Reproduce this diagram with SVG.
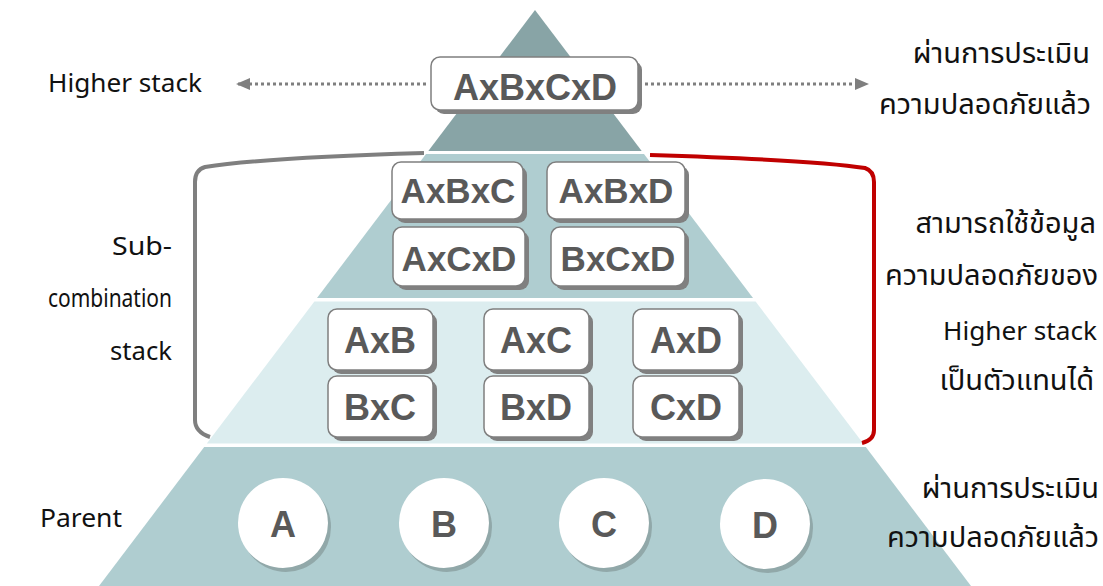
<svg xmlns="http://www.w3.org/2000/svg" width="1103" height="586" viewBox="0 0 1103 586">
<style>
.lbl{font-family:"Noto Sans","Noto Sans Thai","Tahoma","DejaVu Sans",sans-serif;font-size:25px;fill:#111}
.th{font-family:"Noto Sans Thai","Noto Sans","Tahoma","DejaVu Sans",sans-serif;font-size:29px;fill:#111;text-anchor:end}
.bt{font-family:"Liberation Sans",Arial,sans-serif;font-weight:bold;fill:#595959;text-anchor:middle}
.box{fill:#fff;stroke:#7f7f7f;stroke-width:1.5}
.sh{fill:#808080}
.csh{fill:#7d8f90;opacity:0.6}
.cir{fill:#fff}
</style>
<defs>
<marker id="ah" markerWidth="14" markerHeight="12" refX="12" refY="6" orient="auto" markerUnits="userSpaceOnUse">
<path d="M0,0 L14,6 L0,12 z" fill="#7f7f7f"/>
</marker>
</defs>
<g id="pyramid">
<polygon points="535,10 641.7,151 428.3,151" fill="#88a4a6"/>
<polygon points="426,154 644,154 753,298 317,298" fill="#afcdd0"/>
<polygon points="314.4,301.5 755.6,301.5 863.2,443.5 206.8,443.5" fill="#dcedef"/>
<polygon points="204.2,447 865.8,447 971,586 99,586" fill="#afcdd0"/>
</g>
<g id="connectors" fill="none">
<line x1="426" y1="84" x2="238" y2="84" stroke="#7f7f7f" stroke-width="3" stroke-dasharray="3,3" marker-end="url(#ah)"/>
<line x1="645" y1="84" x2="867" y2="84" stroke="#7f7f7f" stroke-width="3" stroke-dasharray="3,3" marker-end="url(#ah)"/>
<path d="M424,153 Q260,158 205,167 Q195,170 195,182 L195,420 Q195,432 210,437" stroke="#7f7f7f" stroke-width="4"/>
<path d="M650,155 Q815,160 865,168 Q874,171 874,182 L874,430 Q874,440 862,443" stroke="#c00000" stroke-width="4"/>
</g>
<g id="n-top">
<rect class="sh" x="435" y="61" width="207" height="53" rx="9"/>
<rect class="box" x="431" y="57" width="207" height="53" rx="9"/>
<text class="bt" x="535" y="100" font-size="36">AxBxCxD</text>
</g>
<g id="n-axbxc">
<rect class="sh" x="396" y="166" width="131" height="57" rx="9"/>
<rect class="box" x="392" y="162" width="131" height="57" rx="9"/>
<text class="bt" x="458" y="203" font-size="35">AxBxC</text>
</g>
<g id="n-axbxd">
<rect class="sh" x="551" y="166" width="138" height="57" rx="9"/>
<rect class="box" x="547" y="162" width="138" height="57" rx="9"/>
<text class="bt" x="616" y="203" font-size="35">AxBxD</text>
</g>
<g id="n-axcxd">
<rect class="sh" x="397" y="231" width="132" height="59" rx="9"/>
<rect class="box" x="393" y="227" width="132" height="59" rx="9"/>
<text class="bt" x="459" y="271" font-size="35">AxCxD</text>
</g>
<g id="n-bxcxd">
<rect class="sh" x="555" y="231" width="134" height="59" rx="9"/>
<rect class="box" x="551" y="227" width="134" height="59" rx="9"/>
<text class="bt" x="618" y="271" font-size="35">BxCxD</text>
</g>
<g id="n-axb">
<rect class="sh" x="332" y="313" width="105" height="61" rx="9"/>
<rect class="box" x="328" y="309" width="105" height="61" rx="9"/>
<text class="bt" x="380" y="353" font-size="36">AxB</text>
</g>
<g id="n-axc">
<rect class="sh" x="488" y="313" width="105" height="61" rx="9"/>
<rect class="box" x="484" y="309" width="105" height="61" rx="9"/>
<text class="bt" x="536" y="353" font-size="36">AxC</text>
</g>
<g id="n-axd">
<rect class="sh" x="637" y="313" width="106" height="61" rx="9"/>
<rect class="box" x="633" y="309" width="106" height="61" rx="9"/>
<text class="bt" x="686" y="353" font-size="36">AxD</text>
</g>
<g id="n-bxc">
<rect class="sh" x="332" y="380" width="105" height="61" rx="9"/>
<rect class="box" x="328" y="376" width="105" height="61" rx="9"/>
<text class="bt" x="380" y="420" font-size="36">BxC</text>
</g>
<g id="n-bxd">
<rect class="sh" x="488" y="380" width="105" height="61" rx="9"/>
<rect class="box" x="484" y="376" width="105" height="61" rx="9"/>
<text class="bt" x="536" y="420" font-size="36">BxD</text>
</g>
<g id="n-cxd">
<rect class="sh" x="637" y="380" width="106" height="61" rx="9"/>
<rect class="box" x="633" y="376" width="106" height="61" rx="9"/>
<text class="bt" x="686" y="420" font-size="36">CxD</text>
</g>
<g id="n-a">
<circle class="csh" cx="286" cy="527" r="45"/>
<circle class="cir" cx="283" cy="523" r="45"/>
<text class="bt" x="283" y="537" font-size="36">A</text>
</g>
<g id="n-b">
<circle class="csh" cx="447" cy="527" r="45"/>
<circle class="cir" cx="444" cy="523" r="45"/>
<text class="bt" x="444" y="537" font-size="36">B</text>
</g>
<g id="n-c">
<circle class="csh" cx="607" cy="527" r="45"/>
<circle class="cir" cx="604" cy="523" r="45"/>
<text class="bt" x="604" y="537" font-size="36">C</text>
</g>
<g id="n-d">
<circle class="csh" cx="768" cy="528" r="45"/>
<circle class="cir" cx="765" cy="524" r="45"/>
<text class="bt" x="765" y="538" font-size="36">D</text>
</g>
<g id="labels-left">
<text class="lbl" x="48" y="92" textLength="154" lengthAdjust="spacingAndGlyphs">Higher stack</text>
<text class="lbl" x="112" y="255" textLength="60" lengthAdjust="spacingAndGlyphs">Sub-</text>
<text class="lbl" x="48" y="307" textLength="124" lengthAdjust="spacingAndGlyphs">combination</text>
<text class="lbl" x="110" y="360" textLength="62" lengthAdjust="spacingAndGlyphs">stack</text>
<text class="lbl" x="40" y="527" textLength="82" lengthAdjust="spacingAndGlyphs">Parent</text>
</g>
<g id="labels-right">
<text class="th" x="1090" y="63">ผ่านการประเมิน</text>
<text class="th" x="1091" y="114">ความปลอดภัยแล้ว</text>
<text class="th" x="1096" y="233">สามารถใช้ข้อมูล</text>
<text class="th" x="1098" y="285">ความปลอดภัยของ</text>
<text class="lbl" x="943" y="340" textLength="154" lengthAdjust="spacingAndGlyphs">Higher stack</text>
<text class="th" x="1094" y="390">เป็นตัวแทนได้</text>
<text class="th" x="1099" y="498">ผ่านการประเมิน</text>
<text class="th" x="1099" y="547">ความปลอดภัยแล้ว</text>
</g>
</svg>
